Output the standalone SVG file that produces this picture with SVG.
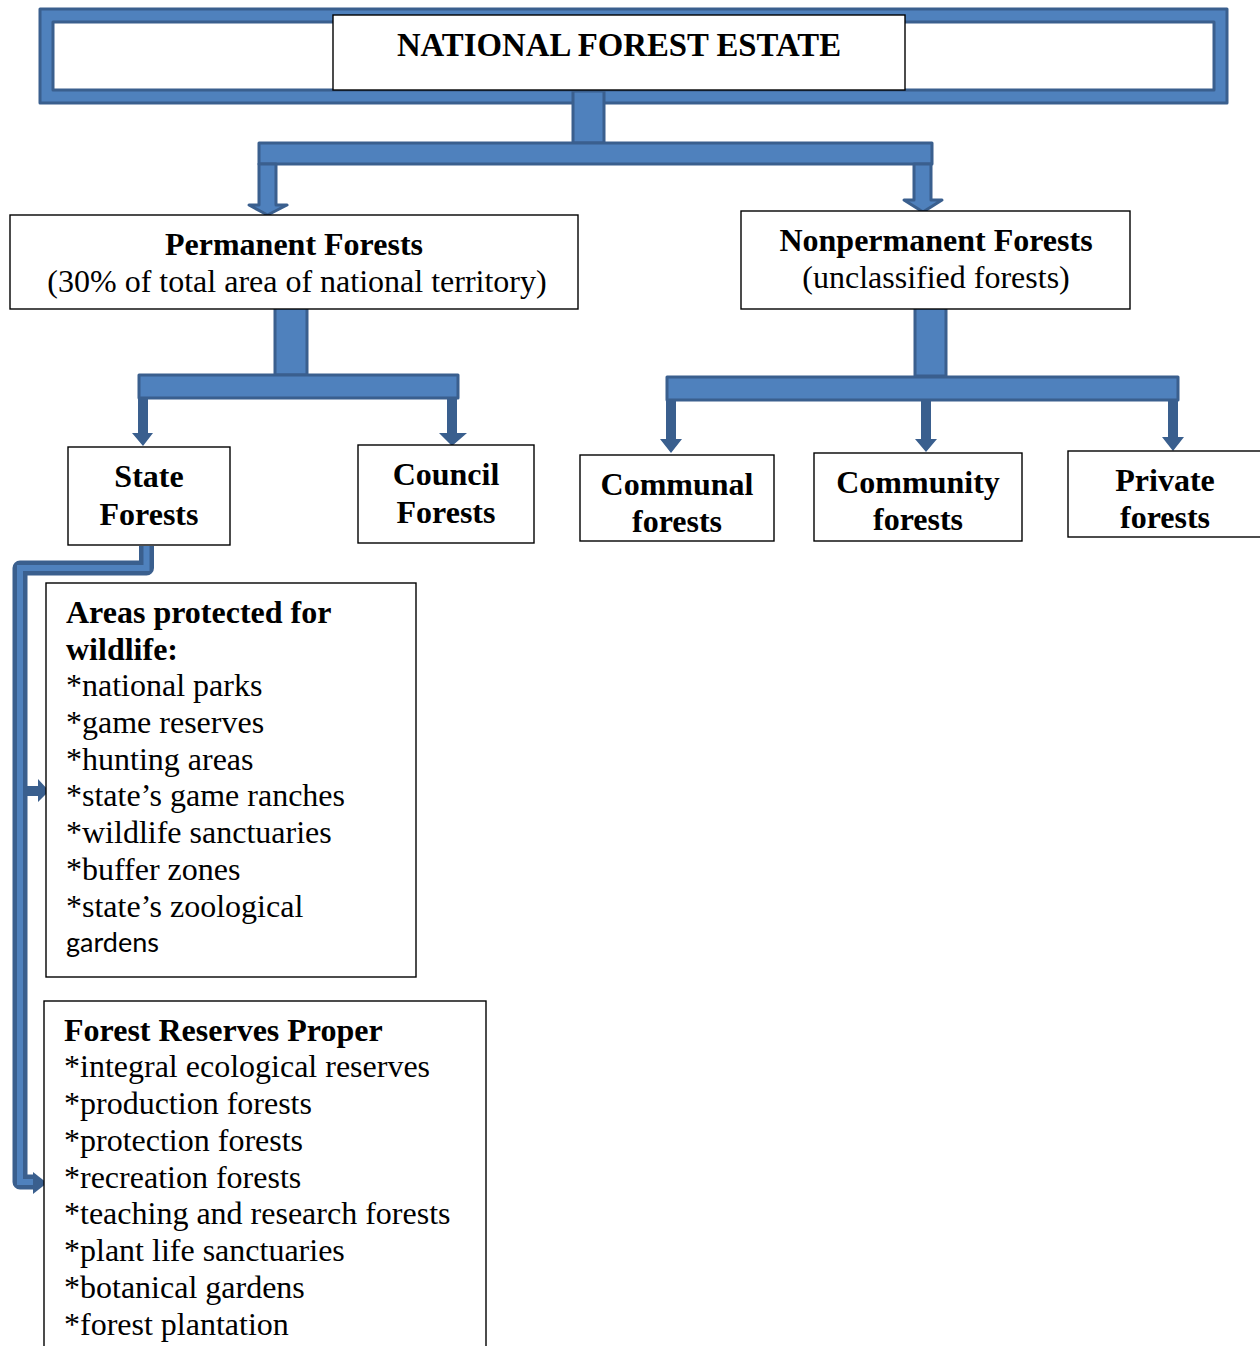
<svg xmlns="http://www.w3.org/2000/svg" width="1260" height="1346" viewBox="0 0 1260 1346">
<style>
.box{fill:#fff;stroke:#000;stroke-width:1.4}
.blk{fill:#4f81bd;stroke:#3a5f8e;stroke-width:3;stroke-linejoin:round}
.dk{fill:#3a5f8e}
.t{font-family:"Liberation Serif","Times New Roman",serif;font-size:32px;fill:#000}
.b{font-weight:bold}
.m{text-anchor:middle}
.s{font-family:Lato,"Liberation Sans",sans-serif;font-size:27px;fill:#000}
</style>
<rect width="1260" height="1346" fill="#fff"/>
<g id="frame">
<path class="blk" fill-rule="evenodd" d="M40,9H1227V103H40Z M53,22V90H1214V22Z"/>
</g>
<g id="connectors">
<rect class="blk" x="573" y="91" width="31" height="52"/>
<rect class="blk" x="259" y="143" width="673" height="21"/>
<polygon class="blk" points="259,164 259,205 249,205 267.5,215 287,205 276,205 276,164"/>
<polygon class="blk" points="914,164 914,200 904,200 923,212 942,200 931,200 931,164"/>
<rect class="blk" x="275" y="305" width="32" height="70"/>
<rect class="blk" x="139" y="375" width="319" height="23"/>
<polygon class="dk" points="138,399 148,399 148,433 153,433 143,446 132,433 138,433"/>
<polygon class="dk" points="447,399 457,399 457,433 467,433 452,446 439,433 447,433"/>
<rect class="blk" x="915" y="303" width="31" height="73"/>
<rect class="blk" x="667" y="377" width="511" height="23"/>
<polygon class="dk" points="666,401 676,401 676,439 682,439 671,453 660,439 666,439"/>
<polygon class="dk" points="921,401 931,401 931,439 937,439 926,452 915,439 921,439"/>
<polygon class="dk" points="1168,401 1178,401 1178,437 1184,437 1173,451 1162,437 1168,437"/>
<polyline points="146.5,546 146.5,568 20,568 20,1182 34,1182" fill="none" stroke="#3a5f8e" stroke-width="15" stroke-linejoin="round"/>
<polyline points="146.5,546 146.5,568 20,568 20,1182 34,1182" fill="none" stroke="#4f81bd" stroke-width="6" stroke-linejoin="miter"/>
<polygon class="dk" points="27,786 38,786 38,779 49,791 38,802 38,796 27,796"/>
<polygon class="dk" points="33,1172 47,1183 33,1194"/>
</g>
<g id="title">
<rect class="box" x="333" y="15" width="572" height="75"/>
<text class="t b m" x="619" y="56" style="font-size:32.8px">NATIONAL FOREST ESTATE</text>
</g>
<g id="permanent">
<rect class="box" x="10" y="215" width="568" height="94"/>
<text class="t b m" x="294" y="255">Permanent Forests</text>
<text class="t m" x="297" y="292">(30% of total area of national territory)</text>
</g>
<g id="nonpermanent">
<rect class="box" x="741" y="211" width="389" height="98"/>
<text class="t b m" x="936" y="251">Nonpermanent Forests</text>
<text class="t m" x="936" y="288">(unclassified forests)</text>
</g>
<g id="state">
<rect class="box" x="68" y="447" width="162" height="98"/>
<text class="t b m" x="149" y="487">State</text>
<text class="t b m" x="149" y="525">Forests</text>
</g>
<g id="council">
<rect class="box" x="358" y="445" width="176" height="98"/>
<text class="t b m" x="446" y="485">Council</text>
<text class="t b m" x="446" y="523">Forests</text>
</g>
<g id="communal">
<rect class="box" x="580" y="455" width="194" height="86"/>
<text class="t b m" x="677" y="495">Communal</text>
<text class="t b m" x="677" y="532">forests</text>
</g>
<g id="community">
<rect class="box" x="814" y="453" width="208" height="88"/>
<text class="t b m" x="918" y="493">Community</text>
<text class="t b m" x="918" y="530">forests</text>
</g>
<g id="private">
<rect class="box" x="1068" y="451" width="196" height="86"/>
<text class="t b m" x="1165" y="491">Private</text>
<text class="t b m" x="1165" y="528">forests</text>
</g>
<g id="wildlife">
<rect class="box" x="46" y="583" width="370" height="394"/>
<text class="t b" x="66" y="623">Areas protected for</text>
<text class="t b" x="66" y="660">wildlife:</text>
<text class="t" x="66" y="696">*national parks</text>
<text class="t" x="66" y="733">*game reserves</text>
<text class="t" x="66" y="770">*hunting areas</text>
<text class="t" x="66" y="806">*state’s game ranches</text>
<text class="t" x="66" y="843">*wildlife sanctuaries</text>
<text class="t" x="66" y="880">*buffer zones</text>
<text class="t" x="66" y="917">*state’s zoological</text>
<text class="s" x="66" y="952">gardens</text>
</g>
<g id="reserves">
<rect class="box" x="44" y="1001" width="442" height="360"/>
<text class="t b" x="64" y="1041">Forest Reserves Proper</text>
<text class="t" x="64" y="1077">*integral ecological reserves</text>
<text class="t" x="64" y="1114">*production forests</text>
<text class="t" x="64" y="1151">*protection forests</text>
<text class="t" x="64" y="1188">*recreation forests</text>
<text class="t" x="64" y="1224">*teaching and research forests</text>
<text class="t" x="64" y="1261">*plant life sanctuaries</text>
<text class="t" x="64" y="1298">*botanical gardens</text>
<text class="t" x="64" y="1335">*forest plantation</text>
</g>
</svg>
